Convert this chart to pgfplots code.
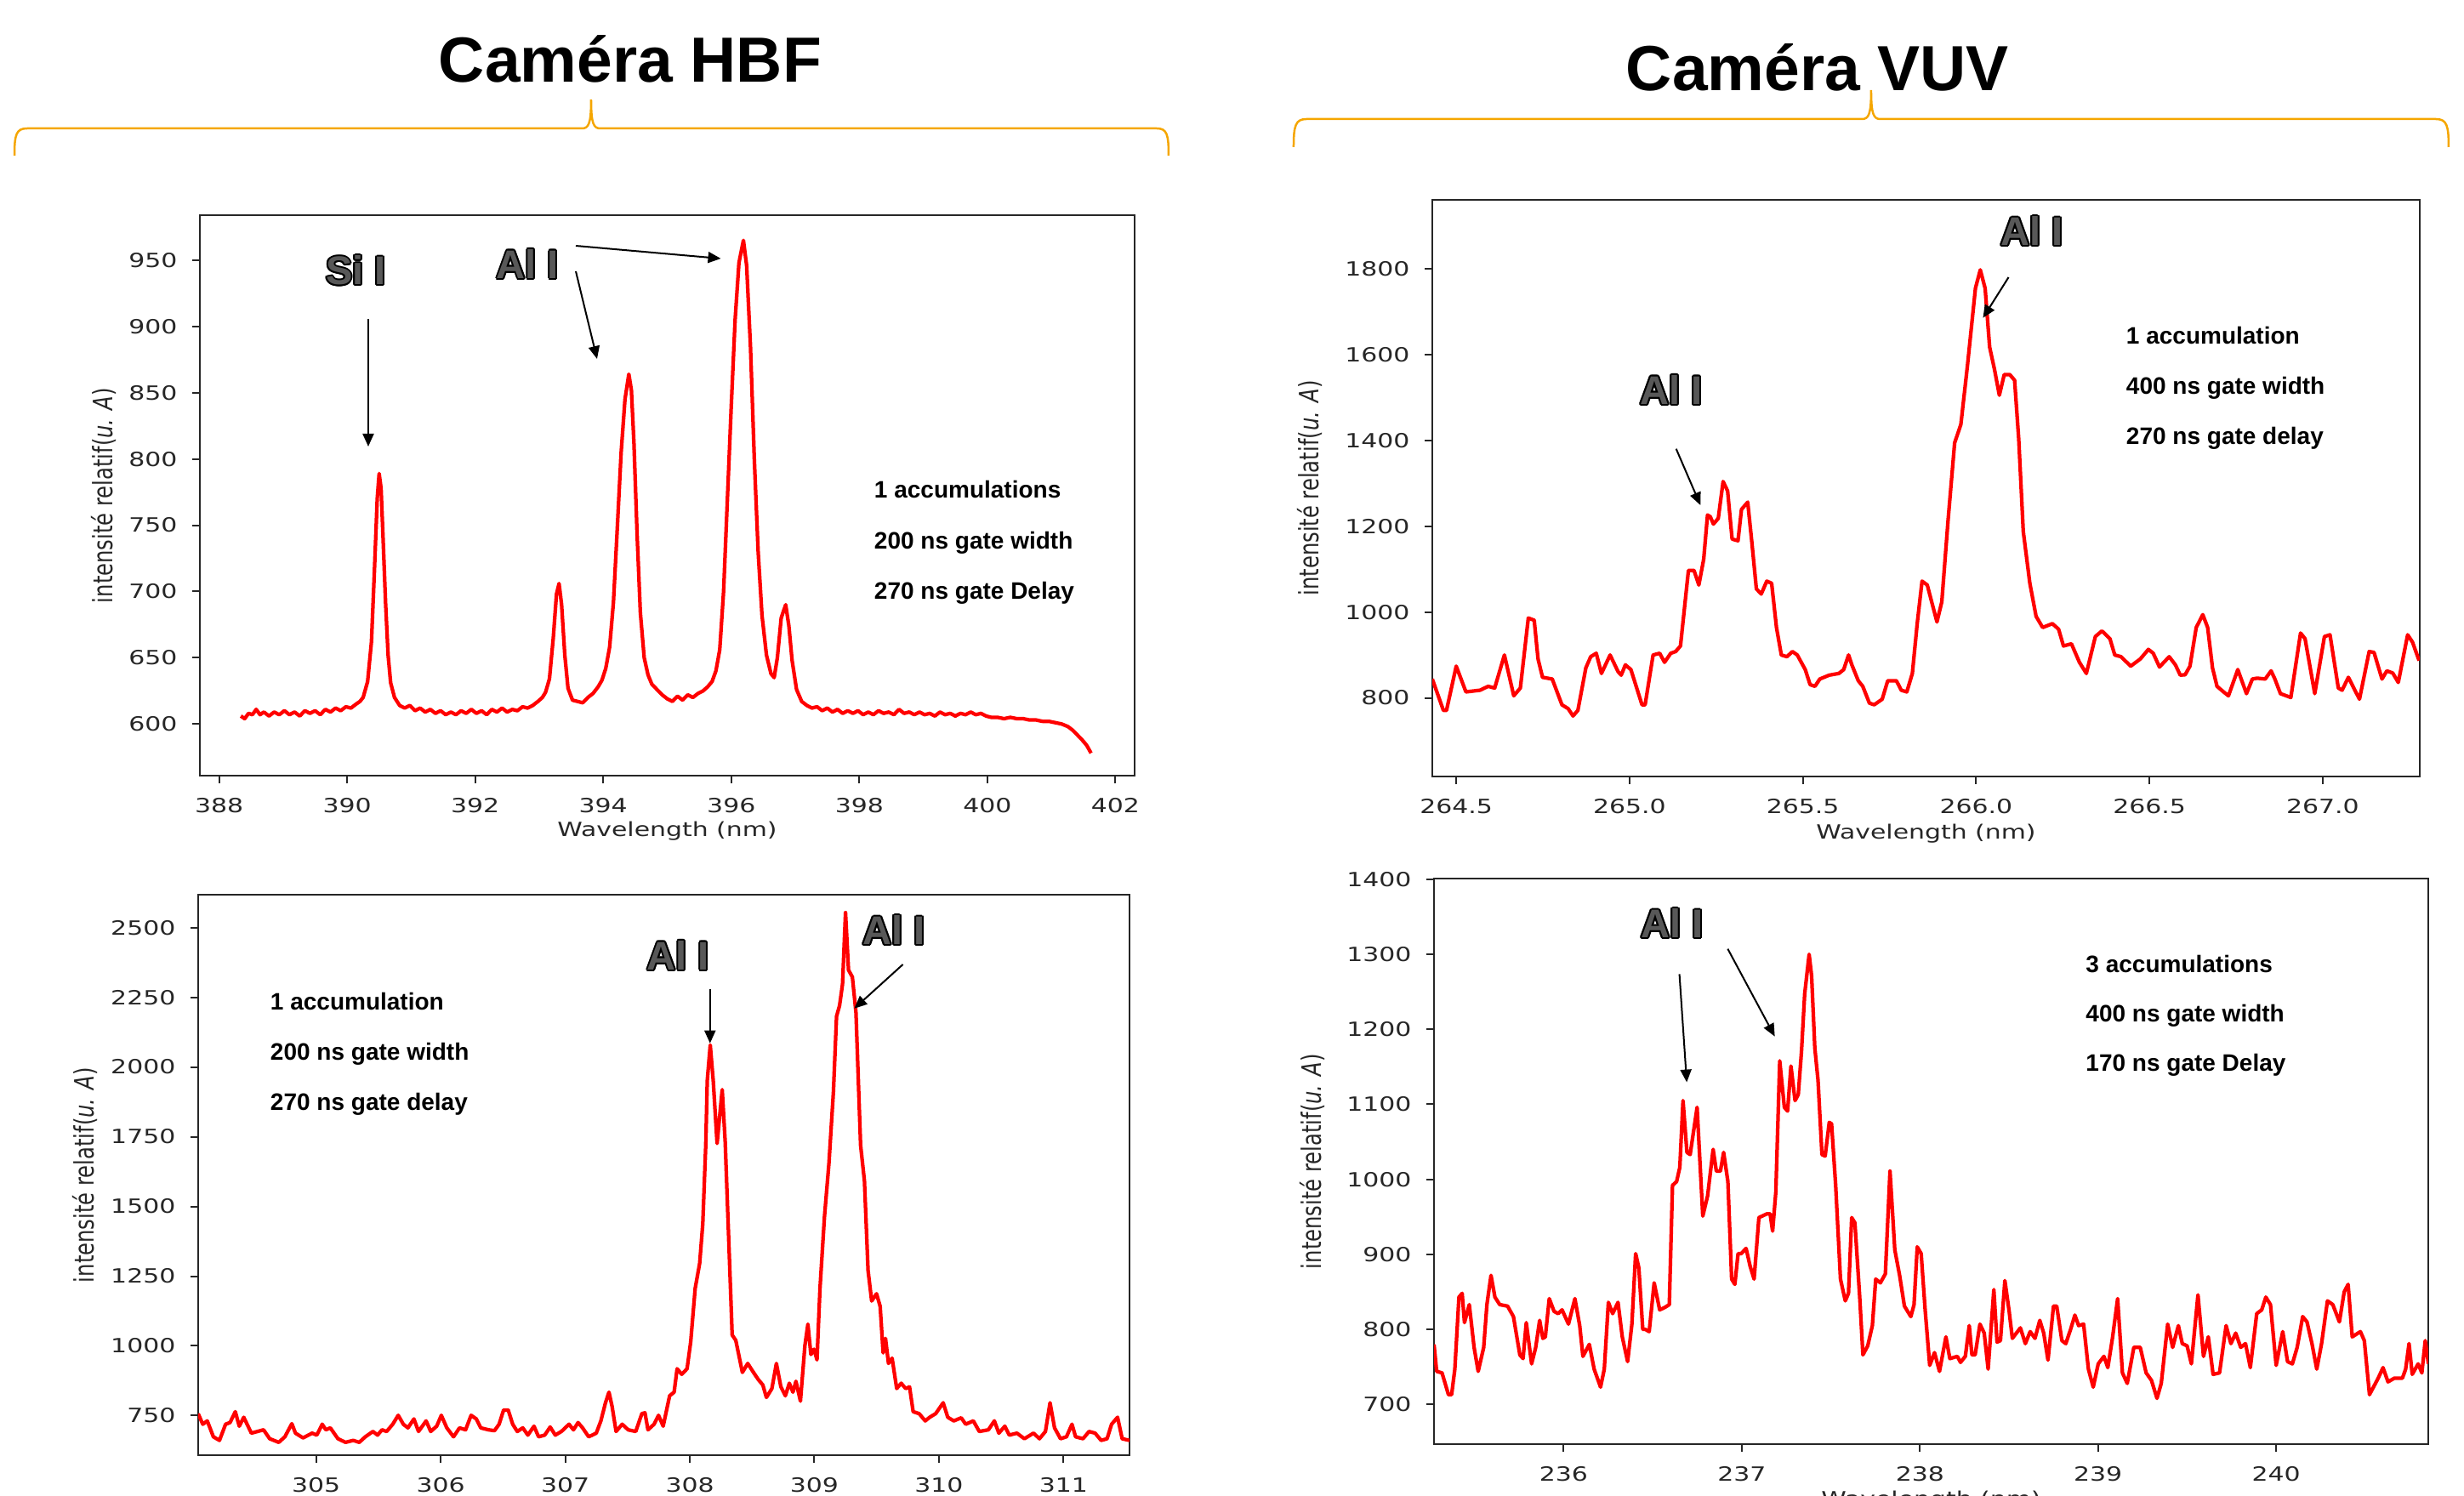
\documentclass[border=0pt]{standalone}
\usepackage{fontspec}
\setmainfont{Liberation Sans}
\newfontfamily\tickfont[FakeStretch=1.3]{DejaVu Sans}
\newfontfamily\ylabfont[FakeStretch=0.77]{DejaVu Sans}
\usepackage{pgfplots}
\pgfplotsset{compat=1.18}
\usetikzlibrary{arrows.meta}

\definecolor{braceor}{RGB}{245,166,0}
\definecolor{labgray}{RGB}{88,88,88}

\pgfplotsset{
  spectrum/.style={
    scale only axis, anchor=south west,
    axis line style={line width=0.4pt, black!85},
    tick pos=left, tick align=outside,
    major tick length=1.8pt,
    tick style={black!85, line width=0.4pt},
    tick label style={font=\tickfont\fontsize{4.6}{5.5}\selectfont, text=black!85},
    /pgf/number format/assume math mode=true,
    /pgf/number format/1000 sep={},
    xlabel={Wavelength (nm)},
    ylabel={intensité relatif(\textit{u. A})},
    xlabel style={font=\tickfont\fontsize{4.6}{5.5}\selectfont, text=black!85,
      anchor=center, at={(axis description cs:0.5,-0.099)}},
    ylabel style={font=\ylabfont\fontsize{6.3}{7}\selectfont, text=black!85, anchor=center},
  }
}
\tikzset{specline/.style={red, line width=0.85pt, mark=none, line join=round}}

% grey outlined peak labels
\newcommand\olabel[2]{%
  \foreach \a in {0,30,...,330}
    \node[anchor=base, font=\bfseries\fontsize{9.4}{11}\selectfont, text=black,
      xshift={0.4pt*cos(\a)}, yshift={0.4pt*sin(\a)}] at #1 {#2};
  \node[anchor=base, font=\bfseries\fontsize{9.4}{11}\selectfont, text=labgray] at #1 {#2};
}
\tikzset{info/.style={anchor=base west, inner sep=0, font=\bfseries\fontsize{5.6}{6}\selectfont},
  pk/.style={-{Triangle[length=3pt,width=2.6pt]}, line width=0.4pt}}

\begin{document}
\begin{tikzpicture}

% Camera HBF, top
\begin{axis}[spectrum, at={(47pt,169.2pt)}, width=219.8pt, height=131.8pt,
  xmin=387.70, xmax=402.30, ymin=561, ymax=984,
  xtick={388,390,...,402}, ytick={600,650,...,950},
  ylabel style={at={(axis description cs:-0.1024,0.5)}}]
\addplot[specline] coordinates {(388.34,606) (388.40,604) (388.46,608) (388.52,607) (388.58,611) (388.64,607) (388.70,609) (388.78,606) (388.86,609) (388.94,607) (389.02,610) (389.10,607) (389.18,609) (389.26,606) (389.34,610) (389.42,608) (389.50,610) (389.58,607) (389.66,611) (389.74,609) (389.82,612) (389.90,610) (389.98,613) (390.06,612) (390.14,615) (390.20,617) (390.25,620) (390.32,632) (390.38,662) (390.43,720) (390.47,770) (390.50,789) (390.53,778) (390.56,742) (390.60,692) (390.64,652) (390.68,631) (390.74,620) (390.82,614) (390.90,612) (390.98,614) (391.06,610) (391.14,612) (391.22,609) (391.30,611) (391.38,608) (391.46,610) (391.54,607) (391.62,609) (391.70,607) (391.78,610) (391.86,608) (391.94,611) (392.02,608) (392.10,610) (392.18,607) (392.26,611) (392.34,609) (392.42,612) (392.50,609) (392.58,611) (392.66,610) (392.74,613) (392.82,612) (392.90,614) (392.98,617) (393.05,620) (393.10,624) (393.16,634) (393.22,665) (393.27,698) (393.31,706) (393.35,690) (393.40,652) (393.45,627) (393.52,618) (393.60,617) (393.68,616) (393.76,620) (393.84,623) (393.92,628) (393.98,633) (394.04,642) (394.10,658) (394.16,692) (394.22,748) (394.28,805) (394.34,845) (394.40,864) (394.44,852) (394.48,812) (394.53,742) (394.58,684) (394.64,650) (394.70,637) (394.76,630) (394.84,626) (394.92,622) (395.00,619) (395.08,617) (395.16,621) (395.24,618) (395.32,622) (395.40,620) (395.48,623) (395.56,625) (395.63,628) (395.70,632) (395.76,640) (395.82,656) (395.88,700) (395.94,770) (396.00,840) (396.06,905) (396.12,948) (396.19,965) (396.24,946) (396.30,885) (396.36,800) (396.42,730) (396.48,682) (396.55,652) (396.62,638) (396.67,635) (396.72,650) (396.78,680) (396.85,690) (396.90,674) (396.95,648) (397.02,626) (397.10,617) (397.18,614) (397.26,612) (397.34,613) (397.42,610) (397.50,612) (397.58,609) (397.66,611) (397.74,608) (397.82,610) (397.90,608) (397.98,610) (398.06,607) (398.14,609) (398.22,607) (398.30,610) (398.38,608) (398.46,609) (398.54,607) (398.62,611) (398.70,608) (398.78,609) (398.86,607) (398.94,609) (399.02,607) (399.10,608) (399.18,606) (399.26,609) (399.34,607) (399.42,608) (399.50,606) (399.58,608) (399.66,607) (399.74,609) (399.82,607) (399.90,608) (399.98,606) (400.06,605) (400.16,605) (400.26,604) (400.36,605) (400.46,604) (400.56,604) (400.66,603) (400.76,603) (400.86,602) (400.96,602) (401.06,601) (401.16,600) (401.26,598) (401.34,595) (401.42,591) (401.48,588) (401.55,584) (401.62,578)};
\end{axis}

% Camera VUV, top
\begin{axis}[spectrum, at={(336.8pt,169.0pt)}, width=232.2pt, height=135.6pt,
  xmin=264.431, xmax=267.28, ymin=617, ymax=1960,
  xtick={264.5,265,265.5,266,266.5,267}, ytick={800,1000,...,1800},
  xticklabel style={/pgf/number format/.cd, fixed, fixed zerofill, precision=1},
  ylabel style={at={(axis description cs:-0.124,0.5)}}]
\addplot[specline] coordinates {(264.431,844) (264.463,771) (264.472,771) (264.500,874) (264.528,814) (264.569,818) (264.592,827) (264.611,823) (264.639,900) (264.666,805) (264.685,823) (264.708,986) (264.725,981) (264.736,891) (264.749,848) (264.777,844) (264.805,784) (264.823,775) (264.837,758) (264.851,771) (264.874,870) (264.888,896) (264.904,904) (264.919,857) (264.944,900) (264.967,861) (264.976,853) (264.988,877) (265.004,866) (265.036,784) (265.045,784) (265.068,900) (265.087,904) (265.101,883) (265.119,904) (265.133,908) (265.147,921) (265.170,1097) (265.186,1097) (265.200,1063) (265.214,1123) (265.225,1226) (265.233,1222) (265.242,1205) (265.256,1218) (265.270,1304) (265.283,1282) (265.296,1170) (265.313,1166) (265.323,1239) (265.341,1256) (265.353,1162) (265.366,1054) (265.380,1042) (265.396,1072) (265.410,1067) (265.424,964) (265.438,900) (265.454,896) (265.470,908) (265.484,900) (265.507,866) (265.521,831) (265.535,827) (265.549,844) (265.576,853) (265.604,857) (265.618,866) (265.632,900) (265.641,878) (265.660,840) (265.673,827) (265.692,788) (265.706,784) (265.729,797) (265.745,840) (265.770,840) (265.784,818) (265.800,814) (265.816,857) (265.830,973) (265.844,1072) (265.859,1063) (265.887,977) (265.901,1024) (265.919,1213) (265.938,1394) (265.956,1437) (265.975,1574) (265.998,1754) (266.012,1797) (266.026,1754) (266.039,1617) (266.053,1565) (266.067,1505) (266.081,1553) (266.097,1553) (266.111,1540) (266.123,1402) (266.136,1188) (266.155,1067) (266.173,990) (266.192,964) (266.220,973) (266.238,960) (266.252,921) (266.275,926) (266.298,883) (266.318,857) (266.344,943) (266.363,956) (266.386,938) (266.400,900) (266.418,896) (266.446,874) (266.474,891) (266.497,913) (266.511,904) (266.529,872) (266.557,896) (266.575,877) (266.589,853) (266.603,854) (266.617,874) (266.635,964) (266.654,994) (266.668,964) (266.682,870) (266.695,827) (266.714,814) (266.728,805) (266.755,866) (266.780,810) (266.797,844) (266.811,846) (266.834,844) (266.851,863) (266.862,844) (266.878,810) (266.908,801) (266.936,951) (266.949,938) (266.977,810) (267.005,943) (267.021,947) (267.045,823) (267.056,818) (267.074,848) (267.106,797) (267.134,908) (267.148,906) (267.171,844) (267.185,863) (267.202,858) (267.218,836) (267.245,947) (267.259,930) (267.278,887)};
\end{axis}

% Camera HBF, bottom (its x label falls below the page, as in the original)
\begin{axis}[spectrum, at={(46.6pt,9.4pt)}, width=219pt, height=131.8pt,
  xmin=304.053, xmax=311.53, ymin=608, ymax=2618,
  xtick={305,306,...,311}, ytick={750,1000,...,2500}, xlabel={},
  ylabel style={at={(axis description cs:-0.1215,0.5)}}]
\addplot[specline] coordinates {(304.053,757) (304.090,719) (304.126,731) (304.175,674) (304.224,661) (304.273,719) (304.309,725) (304.351,764) (304.383,712) (304.419,744) (304.480,687) (304.529,693) (304.578,699) (304.627,667) (304.700,654) (304.749,674) (304.805,721) (304.834,687) (304.895,670) (304.968,687) (305.005,680) (305.049,719) (305.078,699) (305.114,706) (305.175,667) (305.236,654) (305.298,661) (305.346,654) (305.395,674) (305.456,693) (305.493,680) (305.529,699) (305.566,693) (305.615,719) (305.659,751) (305.700,719) (305.737,706) (305.785,738) (305.822,693) (305.883,731) (305.920,693) (305.968,712) (306.005,751) (306.049,706) (306.103,674) (306.151,706) (306.200,699) (306.244,751) (306.286,738) (306.322,706) (306.383,699) (306.432,696) (306.469,719) (306.505,770) (306.542,770) (306.578,719) (306.615,693) (306.659,706) (306.700,680) (306.749,712) (306.786,674) (306.835,680) (306.879,709) (306.920,680) (306.969,693) (307.030,719) (307.066,699) (307.103,725) (307.139,706) (307.188,674) (307.249,687) (307.286,731) (307.323,796) (307.351,834) (307.376,783) (307.408,693) (307.457,719) (307.505,699) (307.566,693) (307.615,757) (307.640,760) (307.664,699) (307.713,719) (307.749,751) (307.786,712) (307.838,821) (307.874,834) (307.898,918) (307.935,898) (307.978,918) (308.007,1014) (308.043,1206) (308.079,1296) (308.104,1437) (308.128,1720) (308.140,1951) (308.164,2079) (308.188,1951) (308.219,1726) (308.260,1919) (308.284,1732) (308.309,1424) (308.340,1039) (308.369,1020) (308.422,905) (308.465,937) (308.502,911) (308.550,879) (308.586,860) (308.615,815) (308.659,847) (308.695,937) (308.731,853) (308.767,821) (308.799,866) (308.828,834) (308.852,873) (308.888,802) (308.924,1001) (308.948,1078) (308.972,969) (308.997,988) (309.021,950) (309.045,1206) (309.081,1463) (309.117,1655) (309.153,1912) (309.178,2182) (309.202,2220) (309.226,2297) (309.250,2554) (309.274,2348) (309.305,2323) (309.334,2195) (309.371,1720) (309.402,1591) (309.431,1270) (309.460,1161) (309.499,1187) (309.528,1142) (309.552,975) (309.571,1027) (309.595,937) (309.624,956) (309.661,847) (309.697,866) (309.733,847) (309.764,853) (309.793,764) (309.841,757) (309.890,731) (309.926,744) (309.974,757) (310.034,796) (310.071,744) (310.119,731) (310.179,742) (310.215,719) (310.276,731) (310.324,693) (310.397,699) (310.445,731) (310.481,687) (310.529,712) (310.565,680) (310.626,687) (310.686,667) (310.759,687) (310.807,667) (310.855,693) (310.892,796) (310.928,706) (310.976,667) (311.024,674) (311.068,719) (311.097,674) (311.157,667) (311.205,693) (311.254,687) (311.302,661) (311.350,667) (311.386,719) (311.434,744) (311.471,667) (311.531,661)};
\end{axis}

% Camera VUV, bottom
\begin{axis}[spectrum, at={(337.2pt,12pt)}, width=233.8pt, height=133pt,
  xmin=235.272, xmax=240.854, ymin=647, ymax=1401,
  xtick={236,237,...,240}, ytick={700,800,...,1400},
  ylabel style={at={(axis description cs:-0.1223,0.5)}}]
\addplot[specline] coordinates {(235.272,780) (235.287,744) (235.317,742) (235.353,713) (235.371,713) (235.389,747) (235.412,843) (235.430,848) (235.443,809) (235.470,833) (235.497,776) (235.520,744) (235.551,776) (235.569,833) (235.592,872) (235.614,843) (235.641,833) (235.685,831) (235.718,817) (235.754,766) (235.772,761) (235.790,809) (235.820,754) (235.843,776) (235.865,812) (235.883,788) (235.897,790) (235.919,841) (235.946,824) (235.969,821) (235.991,826) (236.027,807) (236.063,841) (236.090,805) (236.108,764) (236.144,780) (236.171,747) (236.207,723) (236.228,747) (236.251,836) (236.275,821) (236.305,836) (236.329,790) (236.359,757) (236.383,807) (236.404,901) (236.422,882) (236.444,800) (236.458,800) (236.480,797) (236.508,862) (236.539,826) (236.566,829) (236.593,833) (236.611,992) (236.634,997) (236.652,1016) (236.670,1105) (236.692,1036) (236.710,1033) (236.749,1096) (236.781,951) (236.808,978) (236.839,1040) (236.857,1011) (236.880,1011) (236.898,1036) (236.922,997) (236.943,867) (236.961,860) (236.979,901) (236.997,901) (237.024,908) (237.047,884) (237.069,867) (237.096,949) (237.141,954) (237.159,954) (237.173,931) (237.191,983) (237.213,1158) (237.239,1096) (237.257,1091) (237.276,1151) (237.299,1105) (237.317,1113) (237.335,1170) (237.353,1247) (237.378,1300) (237.392,1271) (237.410,1175) (237.428,1132) (237.450,1033) (237.468,1031) (237.491,1076) (237.504,1074) (237.527,992) (237.554,867) (237.581,838) (237.599,848) (237.617,949) (237.635,942) (237.662,843) (237.680,766) (237.707,778) (237.733,805) (237.752,867) (237.778,862) (237.806,874) (237.832,1011) (237.859,906) (237.886,872) (237.913,831) (237.949,817) (237.967,833) (237.985,910) (238.007,901) (238.030,824) (238.055,752) (238.082,769) (238.110,744) (238.146,790) (238.168,761) (238.210,764) (238.228,756) (238.255,764) (238.277,805) (238.292,766) (238.310,766) (238.337,807) (238.361,795) (238.383,747) (238.415,853) (238.433,783) (238.452,785) (238.477,865) (238.501,824) (238.519,788) (238.564,802) (238.592,781) (238.619,797) (238.646,788) (238.673,812) (238.695,795) (238.719,759) (238.750,831) (238.768,831) (238.797,785) (238.819,781) (238.846,800) (238.870,819) (238.891,805) (238.919,807) (238.946,747) (238.973,723) (239.001,754) (239.033,764) (239.055,749) (239.082,790) (239.110,841) (239.137,742) (239.164,728) (239.201,776) (239.237,776) (239.270,742) (239.300,732) (239.331,708) (239.355,728) (239.391,807) (239.419,776) (239.451,805) (239.473,781) (239.500,778) (239.524,754) (239.561,846) (239.592,764) (239.619,790) (239.646,740) (239.682,742) (239.719,805) (239.746,781) (239.773,795) (239.801,776) (239.828,781) (239.855,749) (239.891,821) (239.919,826) (239.942,843) (239.968,833) (240.000,752) (240.037,797) (240.064,757) (240.091,754) (240.118,776) (240.149,817) (240.173,810) (240.201,781) (240.228,747) (240.255,781) (240.288,838) (240.318,833) (240.355,810) (240.382,850) (240.404,860) (240.427,790) (240.473,797) (240.495,785) (240.524,713) (240.573,735) (240.600,749) (240.628,730) (240.664,735) (240.709,735) (240.727,747) (240.746,781) (240.764,740) (240.797,754) (240.818,742) (240.837,785) (240.855,754)};
\end{axis}

% titles, braces and annotations, in pixels of the reference (y down)
\begin{scope}[x=0.2pt, y=-0.2pt, shift={(0pt,351.6pt)}]
  \node[anchor=base, font=\bfseries\fontsize{15}{18}\selectfont] at (741,97) {Caméra HBF};
  \node[anchor=base, font=\bfseries\fontsize{15}{18}\selectfont] at (2137,107) {Caméra VUV};
  \draw[braceor, line width=0.5pt] (17,183) .. controls (17,158) and (19,151) .. (32,151)
    -- (684,151) .. controls (692,151) and (695,146) .. (695,117)
    .. controls (695,146) and (698,151) .. (706,151) -- (1360,151)
    .. controls (1372,151) and (1374,158) .. (1374,183);
  \draw[braceor, line width=0.5pt] (1521,173) .. controls (1521,148) and (1523,140) .. (1536,140)
    -- (2189,140) .. controls (2197,140) and (2200,135) .. (2200,106)
    .. controls (2200,135) and (2203,140) .. (2211,140) -- (2864,140)
    .. controls (2877,140) and (2879,148) .. (2879,173);

  % HBF top
  \olabel{(418.5,335)}{Si I}
  \olabel{(620.5,327.5)}{Al I}
  \draw[pk] (433,375) -- (433,525);
  \draw[pk] (677,319) -- (702,422);
  \draw[pk] (677,289) -- (847.5,304);
  \node[info] at (1027,586) {1 accumulations};
  \node[info] at (1027,645.5) {200 ns gate width};
  \node[info] at (1027,705) {270 ns gate Delay};

  % VUV top
  \olabel{(1965,475.7)}{Al I}
  \olabel{(2389,289)}{Al I}
  \draw[pk] (1970.7,527.7) -- (1999.3,594);
  \draw[pk] (2361.6,326) -- (2331.5,373.8);
  \node[info] at (2499,405) {1 accumulation};
  \node[info] at (2499,463.6) {400 ns gate width};
  \node[info] at (2499,522.2) {270 ns gate delay};

  % HBF bottom
  \olabel{(797.5,1140.6)}{Al I}
  \olabel{(1051,1111)}{Al I}
  \draw[pk] (834.8,1163.5) -- (834.8,1226.7);
  \draw[pk] (1061.6,1134) -- (1004.4,1185.8);
  \node[info] at (317,1187.5) {1 accumulation};
  \node[info] at (317,1246.4) {200 ns gate width};
  \node[info] at (317,1305.3) {270 ns gate delay};

  % VUV bottom
  \olabel{(1966,1103)}{Al I}
  \draw[pk] (1974.6,1145.4) -- (1983.2,1272.6);
  \draw[pk] (2031.4,1115.7) -- (2086.7,1218.7);
  \node[info] at (2451.5,1143.3) {3 accumulations};
  \node[info] at (2451.5,1201.6) {400 ns gate width};
  \node[info] at (2451.5,1259.9) {170 ns gate Delay};
\end{scope}

\pgfresetboundingbox
\path[use as bounding box] (0,0) rectangle (579.4pt,351.6pt);
\end{tikzpicture}
\end{document}
